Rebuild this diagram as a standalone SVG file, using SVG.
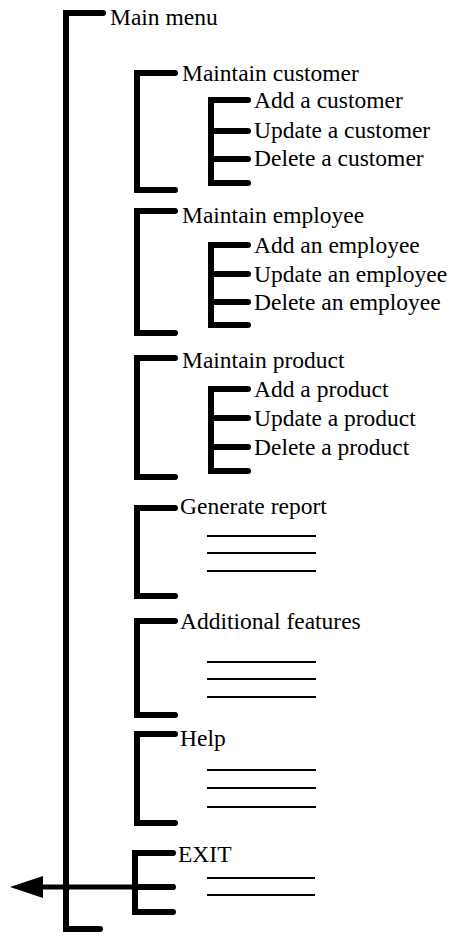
<svg xmlns="http://www.w3.org/2000/svg" width="452" height="936" viewBox="0 0 452 936" font-family="Liberation Serif, Times New Roman, DejaVu Serif, serif">
<style>
.br{fill:none;stroke:#000;stroke-width:6;stroke-linecap:round;stroke-linejoin:miter}
.ln{stroke:#000;stroke-width:2}
.t{font-size:23.5px;fill:#000}
</style>
<rect width="452" height="936" fill="#fff"/>
<g id="connectors">
<path class="br" d="M103,13 H66 V929 H100"/>
<path d="M175,887 H40" stroke="#000" stroke-width="5" fill="none"/>
<polygon points="10,887 43,876 43,898" fill="#000"/>
</g>
<g id="main-menu"><text class="t" x="110" y="25">Main menu</text></g>
<g id="maintain-customer">
<path class="br" d="M175,73 H137 V190 H175"/>
<text class="t" x="182" y="81">Maintain customer</text>
<path class="br" d="M248,100 H211 V183 H248 M211,131 H248 M211,159 H248"/>
<text class="t" x="254" y="108">Add a customer</text>
<text class="t" x="254" y="138">Update a customer</text>
<text class="t" x="254" y="166">Delete a customer</text>
</g>
<g id="maintain-employee">
<path class="br" d="M175,211 H137 V333 H175"/>
<text class="t" x="182" y="223">Maintain employee</text>
<path class="br" d="M248,245 H211 V325 H248 M211,274 H248 M211,302 H248"/>
<text class="t" x="254" y="253">Add an employee</text>
<text class="t" x="254" y="282">Update an employee</text>
<text class="t" x="254" y="310">Delete an employee</text>
</g>
<g id="maintain-product">
<path class="br" d="M175,358 H137 V477 H175"/>
<text class="t" x="182" y="368">Maintain product</text>
<path class="br" d="M248,389 H211 V471 H248 M211,418 H248 M211,447 H248"/>
<text class="t" x="254" y="397">Add a product</text>
<text class="t" x="254" y="426">Update a product</text>
<text class="t" x="254" y="455">Delete a product</text>
</g>
<g id="generate-report">
<path class="br" d="M175,508 H137 V596 H175"/>
<text class="t" x="180" y="514">Generate report</text>
<path class="ln" d="M207,536 H316 M207,553 H316 M207,571 H316"/>
</g>
<g id="additional-features">
<path class="br" d="M175,621 H137 V715 H175"/>
<text class="t" x="180" y="629">Additional features</text>
<path class="ln" d="M207,662 H316 M207,679 H316 M207,697 H316"/>
</g>
<g id="help">
<path class="br" d="M175,734 H137 V823 H175"/>
<text class="t" x="180" y="746">Help</text>
<path class="ln" d="M207,770 H316 M207,788 H316 M207,807 H316"/>
</g>
<g id="exit">
<path class="br" d="M173,853 H135 V912 H173 M135,887 H173"/>
<text class="t" x="178" y="862">EXIT</text>
<path class="ln" d="M207,878 H315 M207,895 H315"/>
</g>
</svg>
